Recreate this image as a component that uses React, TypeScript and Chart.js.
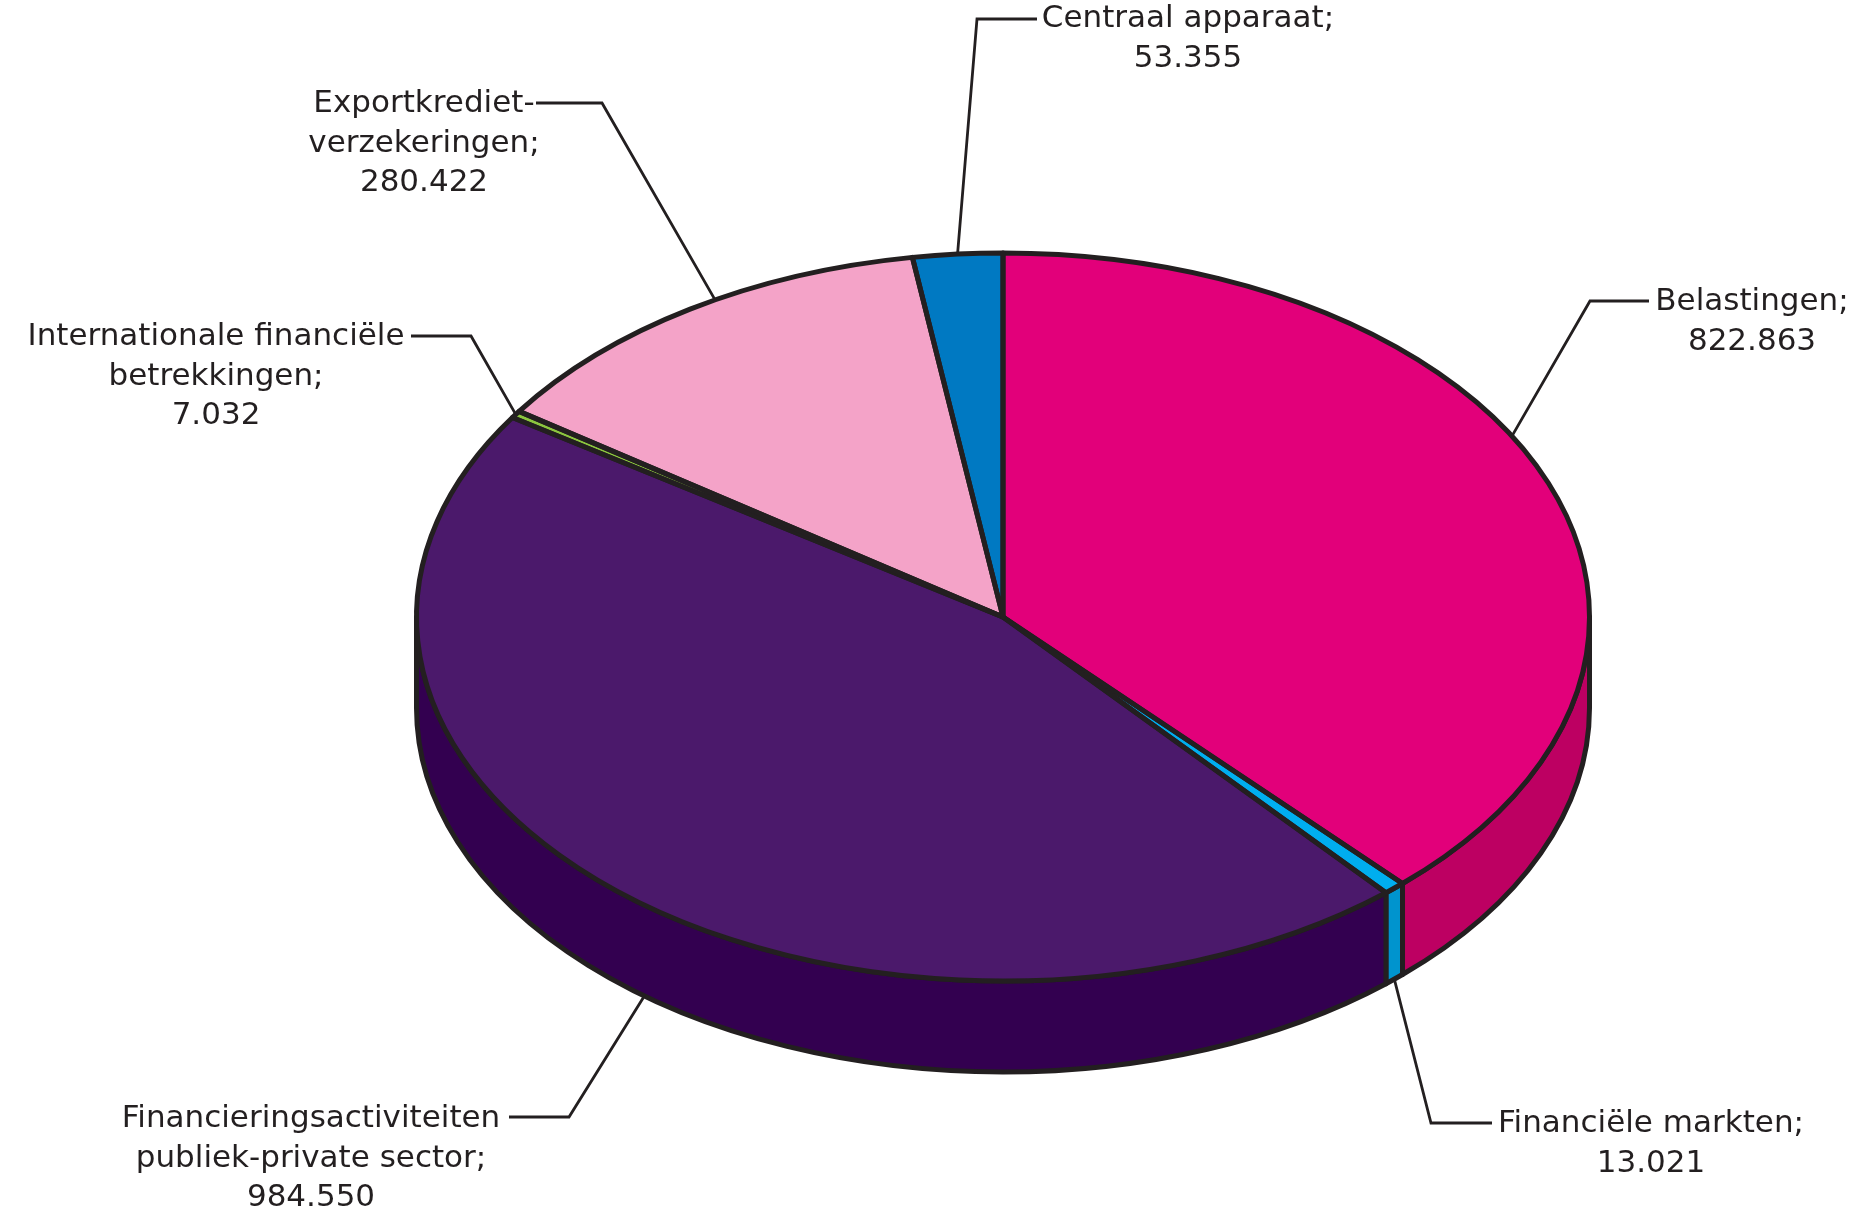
import React, { useEffect, useRef } from 'react';
import { Chart, registerables } from 'chart.js';

Chart.register(...registerables);

// ---------- data ----------
const categories = [
  'Belastingen',
  'Financiële markten',
  'Financieringsactiviteiten publiek-private sector',
  'Internationale financiële betrekkingen',
  'Exportkredietverzekeringen',
  'Centraal apparaat',
];
const labelLines = [
  ['Belastingen;'],
  ['Financiële markten;'],
  ['Financieringsactiviteiten', 'publiek-private sector;'],
  ['Internationale financiële', 'betrekkingen;'],
  ['Exportkrediet-', 'verzekeringen;'],
  ['Centraal apparaat;'],
];
const values = [822863, 13021, 984550, 7032, 280422, 53355];

// ---------- styles ----------
const topColors = ['#E2007A', '#00AEEF', '#4B196B', '#8CC63F', '#F4A3C8', '#0079C2'];
const sideColors = ['#BD0062', '#0094CE', '#330050', '#6FA030', '#D488A8', '#005F9A'];
const EDGE = '#231F20';
const EDGE_W = 5;
const LEADER_W = 2.8;
const TEXT_FONT = "31px 'DejaVu Sans'";
const LINE_H = 39.5;

// ---------- layout ----------
const W = 1849;
const H = 1216;
const CX = 1003;
const CY = 617;
const R = 586.5;
const SQUASH = 364 / 586.5;
const DEPTH = 91;

// anchor angle: degrees clockwise from 12 o'clock (null = slice middle); z: 0 = top rim, 1 = bottom rim
const labelLayout = [
  { angle: 60.2, z: 0, elbow: [1590, 301], end: [1649, 301], x: 1752, y: 310 },
  { angle: null, z: 1, elbow: [1431, 1123], end: [1492, 1123], x: 1651, y: 1132 },
  { angle: 217.7, z: 1, elbow: [569, 1117], end: [509, 1117], x: 311, y: 1127 },
  { angle: null, z: 0, elbow: [471, 336], end: [411, 336], x: 216, y: 345 },
  { angle: 330.6, z: 0, elbow: [602, 103], end: [536, 103], x: 424, y: 112 },
  { angle: null, z: 0, elbow: [977, 19], end: [1037, 19], x: 1188, y: 27 },
];

const fmt = (v: number) => String(v).replace(/\B(?=(\d{3})+(?!\d))/g, '.');

const pie3d = {
  id: 'pie3d',
  beforeDatasetsDraw(chart: any) {
    const ctx = chart.ctx as CanvasRenderingContext2D;
    const meta = chart.getDatasetMeta(0);
    const a0 = meta.data[0] as any;
    const cx = a0.x, cy = a0.y, rx = a0.outerRadius, ry = rx * SQUASH;
    ctx.save();
    ctx.lineWidth = EDGE_W;
    ctx.strokeStyle = EDGE;
    ctx.lineJoin = 'round';
    meta.data.forEach((el: any, i: number) => {
      const { startAngle, endAngle } = el.getProps(['startAngle', 'endAngle'], true);
      const a1 = Math.max(startAngle, 0);
      const a2 = Math.min(endAngle, Math.PI);
      if (a2 <= a1) return;
      ctx.beginPath();
      ctx.ellipse(cx, cy, rx, ry, 0, a1, a2, false);
      ctx.lineTo(cx + rx * Math.cos(a2), cy + ry * Math.sin(a2) + DEPTH);
      ctx.ellipse(cx, cy + DEPTH, rx, ry, 0, a2, a1, true);
      ctx.closePath();
      ctx.fillStyle = sideColors[i];
      ctx.fill();
      ctx.stroke();
    });
    ctx.restore();
    // squash the library-drawn top face into an ellipse
    ctx.save();
    ctx.translate(cx, cy);
    ctx.scale(1, SQUASH);
    ctx.translate(-cx, -cy);
  },
  afterDatasetsDraw(chart: any) {
    const ctx = chart.ctx as CanvasRenderingContext2D;
    ctx.restore();
    const meta = chart.getDatasetMeta(0);
    const a0 = meta.data[0] as any;
    const cx = a0.x, cy = a0.y, rx = a0.outerRadius, ry = rx * SQUASH;

    ctx.save();
    ctx.lineWidth = EDGE_W;
    ctx.strokeStyle = EDGE;
    ctx.lineJoin = 'round';
    meta.data.forEach((el: any) => {
      const { startAngle, endAngle } = el.getProps(['startAngle', 'endAngle'], true);
      ctx.beginPath();
      ctx.moveTo(cx, cy);
      ctx.ellipse(cx, cy, rx, ry, 0, startAngle, endAngle, false);
      ctx.closePath();
      ctx.stroke();
    });
    ctx.restore();

    // labels with leader lines
    ctx.save();
    ctx.font = TEXT_FONT;
    ctx.fillStyle = EDGE;
    ctx.strokeStyle = EDGE;
    ctx.lineWidth = LEADER_W;
    ctx.textAlign = 'center';
    ctx.textBaseline = 'alphabetic';
    meta.data.forEach((el: any, i: number) => {
      const L = labelLayout[i];
      const { startAngle, endAngle } = el.getProps(['startAngle', 'endAngle'], true);
      const a = L.angle === null ? (startAngle + endAngle) / 2 : ((L.angle - 90) * Math.PI) / 180;
      const ax = cx + rx * Math.cos(a);
      const ay = cy + ry * Math.sin(a) + L.z * DEPTH;
      ctx.beginPath();
      ctx.moveTo(ax, ay);
      ctx.lineTo(L.elbow[0], L.elbow[1]);
      ctx.lineTo(L.end[0], L.end[1]);
      ctx.stroke();
      const lines = [...labelLines[i], fmt(values[i])];
      lines.forEach((t, k) => ctx.fillText(t, L.x, L.y + k * LINE_H));
    });
    ctx.restore();
  },
};

export default function App() {
  const ref = useRef<HTMLCanvasElement>(null);
  useEffect(() => {
    const chart = new Chart(ref.current as HTMLCanvasElement, {
      type: 'pie',
      data: {
        labels: categories,
        datasets: [
          {
            data: values,
            backgroundColor: topColors,
            borderWidth: 0,
          },
        ],
      },
      options: {
        responsive: false,
        animation: false,
        devicePixelRatio: 1,
        radius: R,
        layout: {
          padding: {
            left: CX - R,
            right: W - CX - R,
            top: CY - R,
            bottom: H - CY - R,
          },
        },
        plugins: {
          legend: { display: false },
          tooltip: { enabled: false },
        },
      } as any,
      plugins: [pie3d],
    });
    return () => chart.destroy();
  }, []);
  return (
    <div style={{ position: 'fixed', left: 0, top: 0, width: W, height: H, background: '#fff' }}>
      <canvas ref={ref} width={W} height={H} style={{ display: 'block', width: W, height: H }} />
    </div>
  );
}
